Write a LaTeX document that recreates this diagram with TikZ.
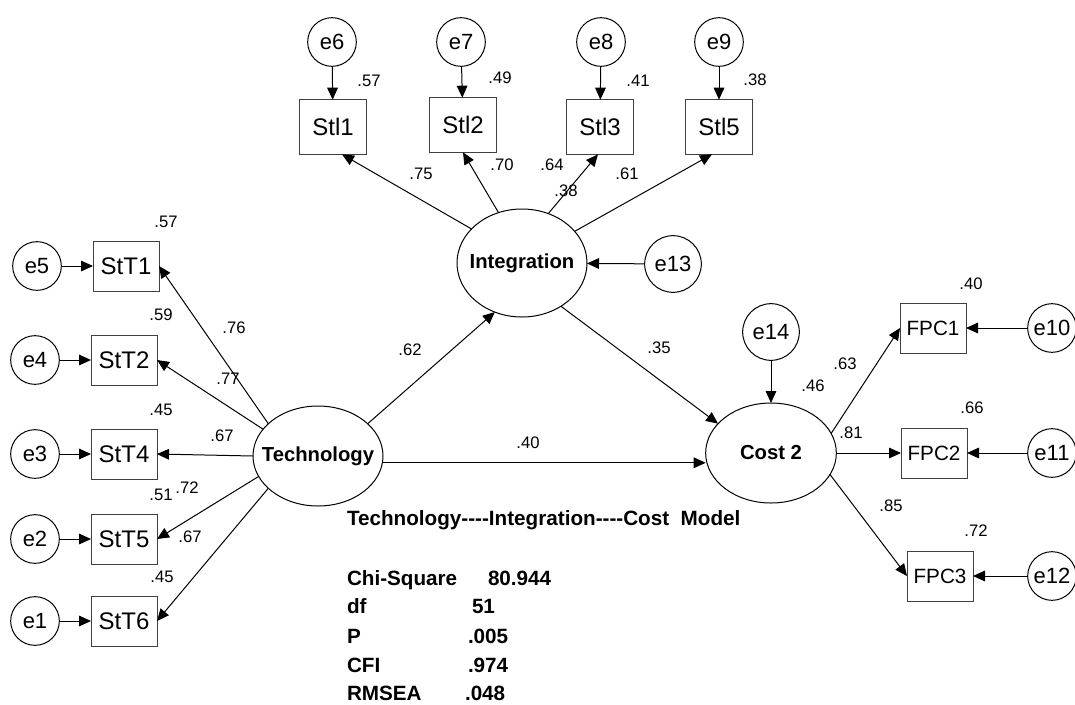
\documentclass[tikz,border=0pt]{standalone}
\usepackage{fontspec}
\setmainfont{Liberation Sans}
\usetikzlibrary{arrows.meta,shapes.geometric}

\begin{document}
\begin{tikzpicture}[x=0.75pt,y=-0.75pt,
  every node/.style={inner sep=0pt, outer sep=0pt},
  err/.style={draw, circle, line width=0.75pt, minimum size=36.5pt,
    font=\fontsize{16.5}{18}\selectfont},
  errbig/.style={err, minimum size=42.5pt},
  obs/.style={draw=black!75, rectangle, line width=0.75pt,
    minimum width=49.5pt, minimum height=37.5pt,
    font=\fontsize{18}{20}\selectfont},
  obstop/.style={obs, minimum width=50pt, minimum height=41pt},
  obsf/.style={obs, font=\fontsize{15.5}{17}\selectfont},
  lat/.style={draw, ellipse, line width=0.75pt,
    minimum width=97.5pt, minimum height=75pt},
  latname/.style={font=\bfseries\fontsize{15.2}{17}\selectfont},
  coef/.style={font=\fontsize{12.5}{14}\selectfont},
  link/.style={-{Triangle[length=9pt,width=8pt]}, line width=0.75pt},
  stat/.style={anchor=base west, font=\bfseries\fontsize{15.5}{17}\selectfont}]

\useasboundingbox (0,0) rectangle (1075,704);

% ---- Integration block (top) ----
\node[err] (e6) at (332,42) {e6};
\node[err] (e7) at (461,42) {e7};
\node[err] (e8) at (601,42) {e8};
\node[err] (e9) at (719,42) {e9};
\node[obstop] (Stl1) at (333,127) {Stl1};
\node[obstop] (Stl2) at (463,125) {Stl2};
\node[obstop] (Stl3) at (600,127) {Stl3};
\node[obstop] (Stl5) at (719,127) {Stl5};
\node[lat, minimum height=81pt, label={[latname]center:Integration}] (Int) at (522,263) {};
\node[errbig] (e13) at (673,264) {e13};

% ---- Technology block (left) ----
\node[err] (e5) at (37,266) {e5};
\node[err] (e4) at (35,360) {e4};
\node[err] (e3) at (35,454) {e3};
\node[err] (e2) at (35,539) {e2};
\node[err] (e1) at (35,621) {e1};
\node[obs] (StT1) at (126,266) {StT1};
\node[obs] (StT2) at (124,360) {StT2};
\node[obs] (StT4) at (124,454) {StT4};
\node[obs] (StT5) at (124,539) {StT5};
\node[obs] (StT6) at (124,621) {StT6};
\node[lat, label={[latname]center:Technology}] (Tech) at (318,456) {};

% ---- Cost block (right) ----
\node[lat, minimum width=98pt, label={[latname]center:Cost 2}] (Cost) at (771,453) {};
\node[errbig] (e14) at (771,332) {e14};
\node[obsf] (FPC1) at (933,328) {FPC1};
\node[obsf] (FPC2) at (934,453) {FPC2};
\node[obsf] (FPC3) at (940,576) {FPC3};
\node[err] (e10) at (1052,328) {e10};
\node[err] (e11) at (1052,453) {e11};
\node[err] (e12) at (1052,576) {e12};

% ---- error terms ----
\foreach \e/\v in {e6/Stl1, e7/Stl2, e8/Stl3, e9/Stl5,
                   e5/StT1, e4/StT2, e3/StT4, e2/StT5, e1/StT6,
                   e10/FPC1, e11/FPC2, e12/FPC3, e13/Int, e14/Cost}
  \draw[link] (\e) -- (\v);

% ---- loadings ----
\draw[link] (Int.146) -- ([xshift=6.75pt]Stl1.south);
\draw[link] (Int.115) -- (Stl2.south);
\draw[link] (Int.62)  -- ([xshift=-1.5pt]Stl3.south);
\draw[link] (Int.31)  -- ([xshift=-5.25pt]Stl5.south);

\draw[link] (Tech.147) -- (StT1.east);
\draw[link] (Tech.154) -- (StT2.east);
\draw[link] (Tech.180) -- (StT4.east);
\draw[link] (Tech.199) -- (StT5.east);
\draw[link] (Tech.213) -- (StT6.east);

\draw[link] (Cost.18)  -- (FPC1.west);
\draw[link] (Cost.0)   -- (FPC2.west);
\draw[link] (Cost.-20) -- (FPC3.west);

% ---- structural paths ----
\draw[link] (Tech.33) -- (Int.241);
\draw[link] (Int.-48) -- (Cost.151);
\draw[link] (Tech.-6) -- (Cost.west |- Tech.-6);

% ---- coefficients ----
\node[coef] (r1) at (369,81) {.57};
\node[coef] (r2) at (500,78) {.49};
\node[coef] (r3) at (638,81) {.41};
\node[coef] (r4) at (755,80) {.38};
\node[coef] (l1) at (421,174) {.75};
\node[coef] (l2) at (502,165) {.70};
\node[coef] (l3) at (552,165) {.64};
\node[coef] (rI) at (566,191) {.38};
\node[coef] (l4) at (627,174) {.61};

\node[coef] (r5) at (166,222) {.57};
\node[coef] (r6) at (161,315) {.59};
\node[coef] (r7) at (161,410) {.45};
\node[coef] (r8) at (161,495) {.51};
\node[coef] (r9) at (162,577) {.45};
\node[coef] (l5) at (234,328) {.76};
\node[coef] (l6) at (228,379) {.77};
\node[coef] (l7) at (222,436) {.67};
\node[coef] (l8) at (187,488) {.72};
\node[coef] (l9) at (190,537) {.67};

\node[coef] (p1) at (410,350) {.62};
\node[coef] (p2) at (659,348) {.35};
\node[coef] (p3) at (528,443) {.40};

\node[coef] (rC) at (813,386) {.46};
\node[coef] (l10) at (845,364) {.63};
\node[coef] (l11) at (851,433) {.81};
\node[coef] (l12) at (891,506) {.85};
\node[coef] (r10) at (971,284) {.40};
\node[coef] (r11) at (972,408) {.66};
\node[coef] (r12) at (976,531) {.72};

% ---- model title and fit statistics ----
\node[stat] (title) at (347,525) {Technology-{}-{}-{}-Integration-{}-{}-{}-Cost~~Model};
\node[stat] (s1) at (347,585) {Chi-Square};
\node[stat] (v1) at (488,585) {80.944};
\node[stat] (s2) at (347,613) {df};
\node[stat] (v2) at (472,613) {51};
\node[stat] (s3) at (347,643) {P};
\node[stat] (v3) at (468,643) {.005};
\node[stat] (s4) at (347,672) {CFI};
\node[stat] (v4) at (468,672) {.974};
\node[stat] (s5) at (347,700) {RMSEA};
\node[stat] (v5) at (465,700) {.048};
\end{tikzpicture}
\end{document}
